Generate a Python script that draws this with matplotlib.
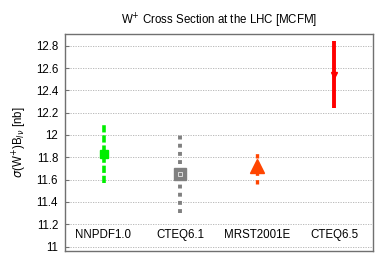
import matplotlib
matplotlib.use("Agg")
import matplotlib.pyplot as plt

plt.rcParams["font.family"] = ["Liberation Sans", "DejaVu Sans"]

# data
pdf_sets = ["NNPDF1.0", "CTEQ6.1", "MRST2001E", "CTEQ6.5"]
xsec = [11.83, 11.65, 11.72, 12.54]
err_lo = [0.26, 0.35, 0.16, 0.30]
err_hi = [0.27, 0.36, 0.14, 0.30]
y_ticks = [11.0, 11.2, 11.4, 11.6, 11.8, 12.0, 12.2, 12.4, 12.6, 12.8]
y_tick_labels = ["11", "11.2", "11.4", "11.6", "11.8", "12", "12.2", "12.4", "12.6", "12.8"]

colors = ["#00ee00", "#808080", "#ff4500", "#ff0000"]
markers = ["s", "s", "^", "v"]
msizes = [6, 8.5, 10, 5]
styles = [(0, (2.0, 0.8)), (0, (1.0, 1.1)), (0, (1.3, 1.3)), "-"]
widths = [2.6, 2.8, 2.4, 2.8]

fig = plt.figure(figsize=(3.92, 2.75), dpi=100)
ax = fig.add_axes([65 / 392, 1 - 251 / 275, 308 / 392, 217 / 275])

for i, name in enumerate(pdf_sets):
    xpos = i + 1
    ax.plot([xpos, xpos], [xsec[i] - err_lo[i], xsec[i] + err_hi[i]],
            color=colors[i], lw=widths[i], linestyle=styles[i],
            solid_capstyle="butt", dash_capstyle="butt", zorder=3)
    ax.plot([xpos], [xsec[i]], marker=markers[i], ms=msizes[i],
            color=colors[i], mec=colors[i], linestyle="none", zorder=4)
    ax.text(xpos, 11.1, name, ha="center", va="center", fontsize=8.3)

# hollow centre in the CTEQ6.1 square
ax.plot([2], [xsec[1]], marker="s", ms=2.5, mfc=colors[1], mec="white",
        mew=0.5, linestyle="none", zorder=5)

ax.set_xlim(0.5, 4.5)
ax.set_ylim(10.96, 12.905)
ax.set_xticks([])
ax.set_yticks(y_ticks)
ax.set_yticklabels(y_tick_labels)
ax.tick_params(axis="y", direction="in", length=3, width=0.8, color="#707070",
               labelsize=8.3, pad=5)
ax.grid(axis="y", color="#b0b0b0", linestyle=(0, (1.5, 1.5)), lw=0.6)
for s in ax.spines.values():
    s.set_color("#707070")
    s.set_linewidth(1.0)

ax.set_ylabel(r"$\sigma$(W$^{+}$)B$_{l\nu}$ [nb]", fontsize=8.3, labelpad=5)
ax.set_title(r"W$^{+}$ Cross Section at the LHC [MCFM]", fontsize=8.3, pad=7)

fig.savefig("out.png", dpi=100)
